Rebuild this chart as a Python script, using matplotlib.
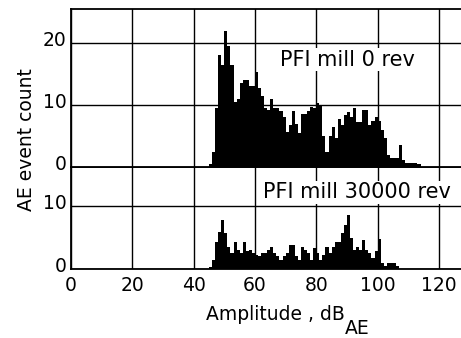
import numpy as np
import matplotlib
matplotlib.use('Agg')
from matplotlib import pyplot as plt
from matplotlib.transforms import ScaledTranslation

# AE amplitude histograms, 1 dB bins (left edges)
amp_0rev = list(range(44, 115))
count_0rev = [0, 0.5, 2.5, 9.5, 18, 16.5, 22, 19.5, 16.5, 10.5,
              11, 13.5, 14, 14, 13, 13, 15.4, 12.7, 11.5, 9.5,
              9.2, 11, 9.5, 9.5, 9, 8, 5.7, 6.8, 9, 7,
              5.5, 8.5, 8.5, 9, 9.7, 9.5, 10.3, 10, 5, 2.5,
              5, 6.5, 4.6, 7.8, 6.8, 8.4, 8.9, 8.0, 9.5, 7.3,
              7.3, 9.2, 9.2, 6.8, 7.5, 8.1, 7.5, 6, 4.6, 1.9,
              1.4, 1.4, 1.4, 3.5, 1.2, 0.6, 0.6, 0.6, 0.6, 0.5,
              0]

amp_30000rev = list(range(44, 108))
count_30000rev = [0, 0.3, 1.4, 4.3, 5.9, 7.8, 5.7, 3.5, 2.5, 4.3,
                  3.0, 2.5, 4.3, 2.8, 3.0, 2.5, 2.2, 2.0, 2.5, 2.6,
                  3.0, 3.5, 2.5, 2, 1.5, 2, 2.5, 3.8, 3.8, 2,
                  1.5, 3.5, 3, 2.5, 1.5, 3.3, 2.5, 1.4, 2.3, 3.5,
                  2.5, 3.5, 4.3, 4.3, 5.7, 7, 8.6, 5, 3, 3.5,
                  3, 4.6, 3, 2.5, 1.7, 2.8, 4.8, 0.9, 0.5, 0.9,
                  0.9, 0.9, 0.5, 0]

xticks = [0, 20, 40, 60, 80, 100, 120]
label_top = "PFI mill 0 rev"
label_bot = "PFI mill 30000 rev"

FS = 13.5
W, H = 461, 338
fig = plt.figure(figsize=(W / 100, H / 100), dpi=100)

left = 71 / W
ax_bot = fig.add_axes([left, (H - 269) / H, 1 - left, 102 / H])
ax_top = fig.add_axes([left, (H - 167) / H, 1 - left, 158 / H], sharex=ax_bot)

def edges(a):
    return np.append(a, a[-1] + 1)

ax_top.stairs(count_0rev, edges(amp_0rev), fill=True, color='black', zorder=2)
ax_bot.stairs(count_30000rev, edges(amp_30000rev), fill=True, color='black', zorder=2)

ax_top.set_ylim(0, 25.5)
ax_bot.set_ylim(0, 16.2)
ax_bot.set_xlim(0, 127.2)
ax_top.set_yticks([0, 10, 20])
ax_bot.set_yticks([0, 10])
ax_bot.set_xticks(xticks)

shift = ScaledTranslation(0, 5 / 100, fig.dpi_scale_trans)
for ax in (ax_top, ax_bot):
    ax.set_axisbelow(True)
    ax.grid(True, color='black', linewidth=1.0)
    ax.tick_params(length=0, labelsize=FS, pad=3)
    ax.spines['right'].set_visible(False)
    for s in ('left', 'top', 'bottom'):
        ax.spines[s].set_linewidth(1.3)
    for lab in ax.get_yticklabels():
        lab.set_transform(lab.get_transform() + shift)
ax_bot.tick_params(axis='x', pad=5)
ax_top.tick_params(axis='x', labelbottom=False)

box = dict(facecolor='white', edgecolor='none', pad=1)
ax_top.text(68.2, 17.3, label_top, fontsize=15, va='center', ha='left', bbox=box, zorder=4)
ax_bot.text(62.6, 12.2, label_bot, fontsize=15, va='center', ha='left', bbox=box, zorder=4,
            clip_on=False)

fig.text(26 / W, 1 - 140 / H, 'AE event count', rotation=90, ha='center', va='center', fontsize=FS)
fig.text(345 / W, 1 - 320 / H, 'Amplitude , dB', ha='right', va='baseline', fontsize=FS)
fig.text(345 / W, 1 - 334 / H, 'AE', ha='left', va='baseline', fontsize=FS)

plt.savefig('out.png', dpi=100)
